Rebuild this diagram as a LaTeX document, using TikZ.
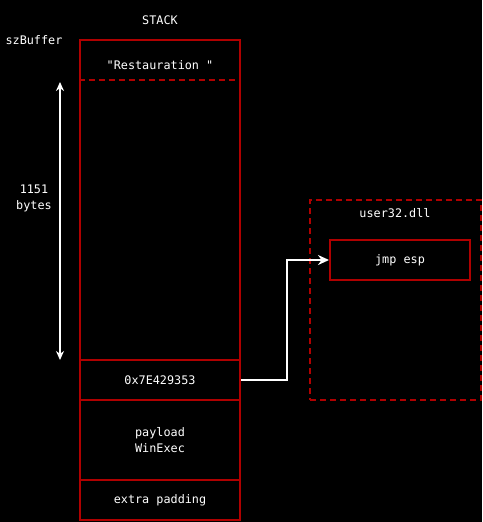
\documentclass[tikz,border=0pt]{standalone}
\usepackage{fontspec}
\setmonofont{DejaVu Sans Mono}
\usepackage{tikz}
\usetikzlibrary{positioning,arrows.meta}
\definecolor{stackred}{HTML}{B00000}

\begin{document}
\begin{tikzpicture}[x=1pt,y=-1pt,
    txt/.style={text=white, font=\ttfamily\fontsize{11.8}{16}\selectfont, align=center},
    cell/.style={txt, draw=stackred, line width=2pt, minimum width=160pt, inner sep=0pt},
    link/.style={draw=white, line width=2pt}]
  % Background
  \fill[black] (0,0) rectangle (482,522);

  % Stack labels
  \node[txt] (stacklbl) at (160,20) {STACK};
  \node[txt] (szbuf) at (34,40) {szBuffer};

  % Buffer area
  \node[cell, minimum height=320pt] (buf) at (160,200) {};
  \draw[stackred, line width=2pt, dash pattern=on 6pt off 4pt]
    ([yshift=-41pt]buf.north west) -- ([yshift=-41pt]buf.north east);
  \node[txt] (restau) at (160,65) {"Restauration "};

  % Overwritten return address, payload, padding
  \node[cell, minimum height=40pt] (addr) at (160,380) {0x7E429353};
  \node[cell, minimum height=80pt] (payload) at (160,440) {payload\\WinExec};
  \node[cell, minimum height=40pt] (padding) at (160,500) {extra padding};

  % Buffer size
  \coordinate (sztop) at (60,82);
  \coordinate (szbot) at (60,360);
  \draw[white, line width=1.5pt, {Stealth[length=9pt,width=8pt]}-{Stealth[length=9pt,width=8pt]}] (sztop) -- (szbot);
  \node[txt] (bytes) at (34,198) {1151\\bytes};

  % user32.dll
  \node[draw=stackred, line width=2pt, dash pattern=on 6pt off 4pt,
        minimum width=171pt, minimum height=200pt, inner sep=0pt] (dll) at (395.5,300) {};
  \node[txt] (dlllbl) at (395,213) {user32.dll};
  \node[cell, minimum width=140pt, minimum height=40pt] (jmp) at (400,260) {jmp esp};

  % Jump
  \draw[link, -{Stealth[length=11pt,width=10pt]}] (addr.east) -- ++(46,0) |- (jmp.west);
\end{tikzpicture}
\end{document}
